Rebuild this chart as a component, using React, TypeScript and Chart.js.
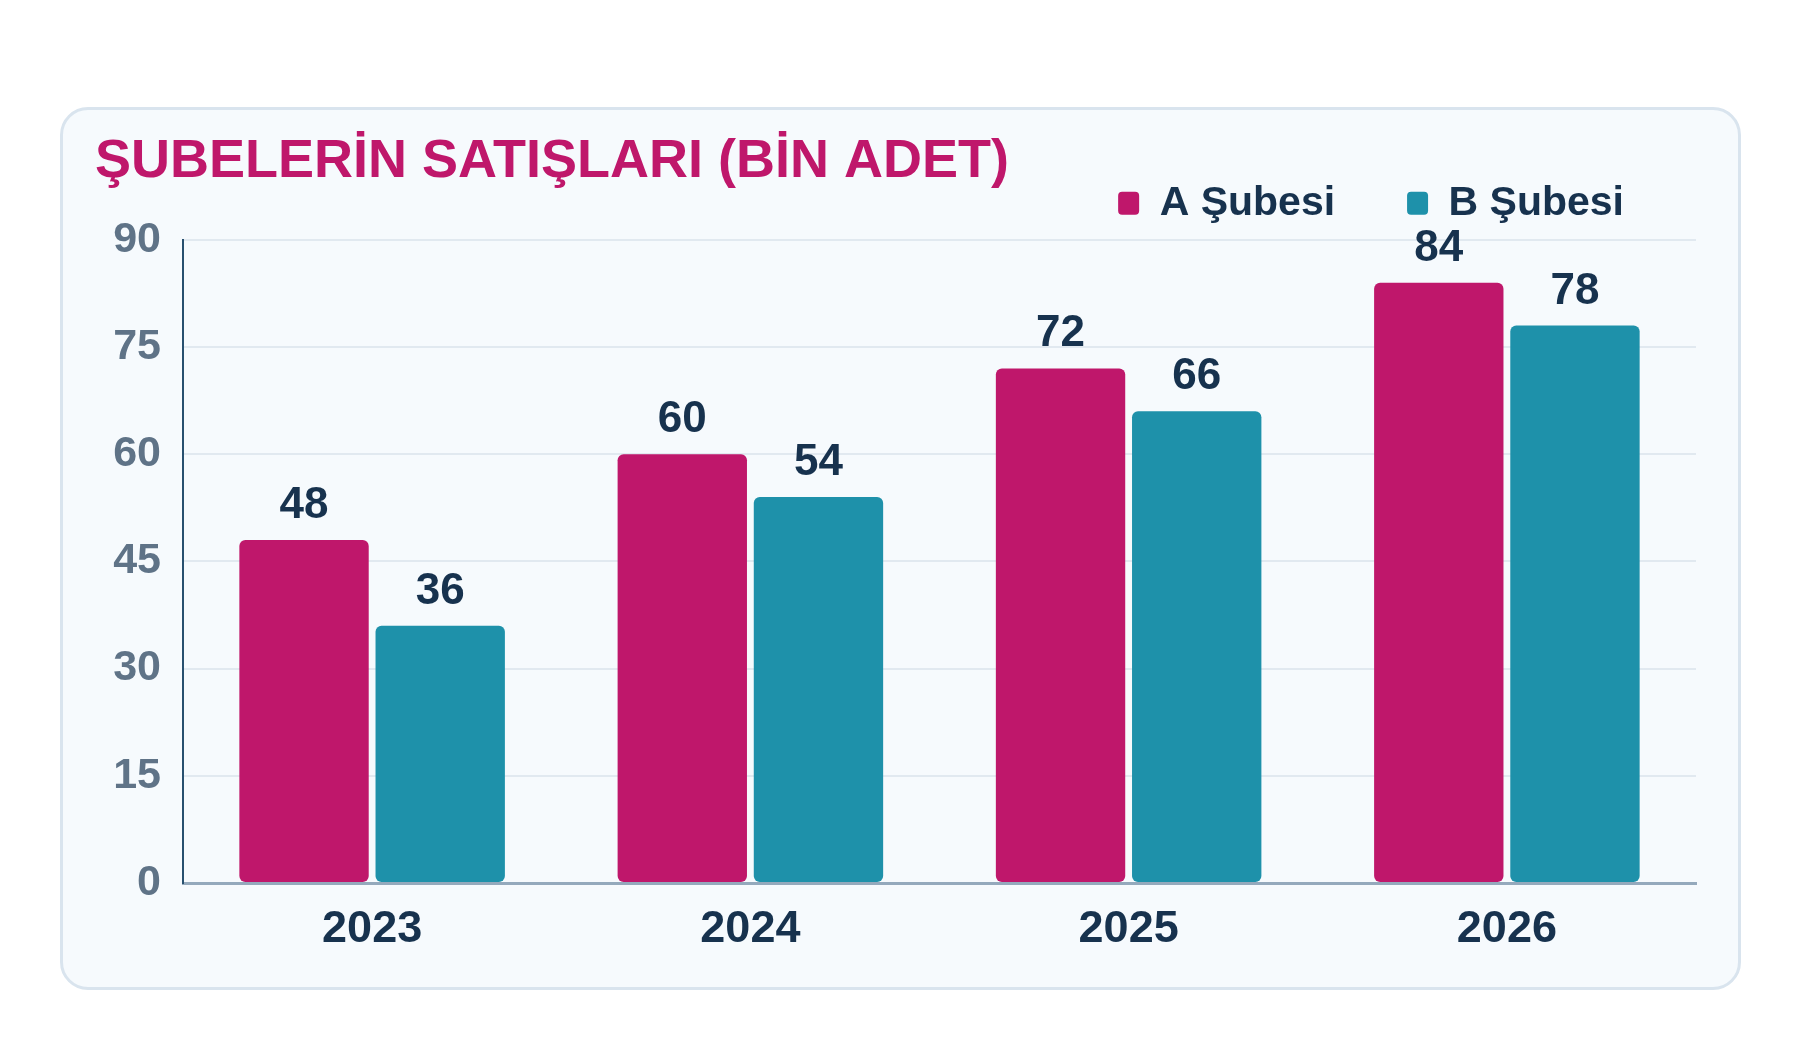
import { useEffect, useRef } from "react";
import { Chart, registerables } from "chart.js";

Chart.register(...registerables);

// veriler
const years = ["2023", "2024", "2025", "2026"];
const aSubesi = [48, 60, 72, 84];
const bSubesi = [36, 54, 66, 78];
const yMax = 90;
const yStep = 15;

const MAGENTA = "#bf176b";
const TEAL = "#1e91aa";
const NAVY = "#17324e";
const SLATE = "#5f7387";
const FONT = "'Liberation Sans', Arial, sans-serif";

// bar üstündeki değer yazıları
const valueLabels = {
  id: "valueLabels",
  afterDatasetsDraw(chart: any) {
    const ctx = chart.ctx;
    ctx.save();
    ctx.font = `bold 44px ${FONT}`;
    ctx.fillStyle = NAVY;
    ctx.textAlign = "center";
    ctx.textBaseline = "alphabetic";
    chart.data.datasets.forEach((ds: any, i: number) => {
      const meta = chart.getDatasetMeta(i);
      meta.data.forEach((bar: any, j: number) => {
        ctx.fillText(String(ds.data[j]), bar.x, bar.y - 22);
      });
    });
    ctx.restore();
  },
};

// legend ile grafik arasına biraz boşluk
const legendGap = {
  id: "legendGap",
  beforeLayout(chart: any) {
    const legend = chart.legend;
    if (legend && !legend._gapPatched) {
      const fit = legend.fit;
      legend.fit = function () {
        fit.call(this);
        this.height += 6;
      };
      legend._gapPatched = true;
    }
  },
};

export default function App() {
  const chartRef = useRef<HTMLCanvasElement | null>(null);

  useEffect(() => {
    document.body.style.margin = "0";
    if (!chartRef.current) return;
    const myChart = new Chart(chartRef.current, {
      type: "bar",
      data: {
        labels: years,
        datasets: [
          {
            label: "A Şubesi",
            data: aSubesi,
            backgroundColor: MAGENTA,
            borderRadius: 6,
            borderSkipped: false,
            categoryPercentage: 0.72,
            barPercentage: 0.95,
          },
          {
            label: "B Şubesi",
            data: bSubesi,
            backgroundColor: TEAL,
            borderRadius: 6,
            borderSkipped: false,
            categoryPercentage: 0.72,
            barPercentage: 0.95,
          },
        ],
      },
      options: {
        animation: false,
        responsive: false,
        maintainAspectRatio: false,
        devicePixelRatio: 1,
        layout: {
          padding: { left: 95, right: 104, top: 0, bottom: 73 },
        },
        plugins: {
          title: {
            display: true,
            text: "ŞUBELERİN SATIŞLARI (BİN ADET)",
            align: "start",
            color: MAGENTA,
            font: { family: FONT, size: 54, weight: "bold" },
            padding: { top: 130, bottom: -84 },
          },
          legend: {
            display: true,
            align: "end",
            labels: {
              color: NAVY,
              font: { family: FONT, size: 41, weight: "bold" },
              boxWidth: 21,
              boxHeight: 23,
              useBorderRadius: true,
              borderRadius: 4,
              padding: 72,
            },
          },
          tooltip: { enabled: false },
        },
        scales: {
          x: {
            grid: { display: false, drawTicks: false },
            border: { display: true, color: "#94a9bc", width: 3 },
            ticks: {
              color: NAVY,
              padding: 20,
              font: { family: FONT, size: 45, weight: "bold" },
            },
          },
          y: {
            min: 0,
            max: yMax,
            ticks: {
              stepSize: yStep,
              color: SLATE,
              padding: 22,
              font: { family: FONT, size: 43, weight: "bold" },
            },
            grid: { color: "#e1e9f0", lineWidth: 2, drawTicks: false },
            border: { display: true, color: "#28506f", width: 2 },
            afterFit(scale: any) {
              scale.width = 88;
            },
          },
        },
      },
      plugins: [valueLabels, legendGap],
    });
    return () => {
      myChart.destroy();
    };
  }, []);

  return (
    <div style={{ position: "relative", width: 1800, height: 1050, background: "#ffffff" }}>
      <div
        style={{
          position: "absolute",
          left: 60,
          top: 107,
          width: 1681,
          height: 883,
          boxSizing: "border-box",
          border: "3px solid #d9e4ee",
          borderRadius: 28,
          background: "#f6fafd",
        }}
      />
      <canvas
        ref={chartRef}
        width={1800}
        height={1050}
        style={{ position: "absolute", left: 0, top: 0, width: 1800, height: 1050 }}
      />
    </div>
  );
}
